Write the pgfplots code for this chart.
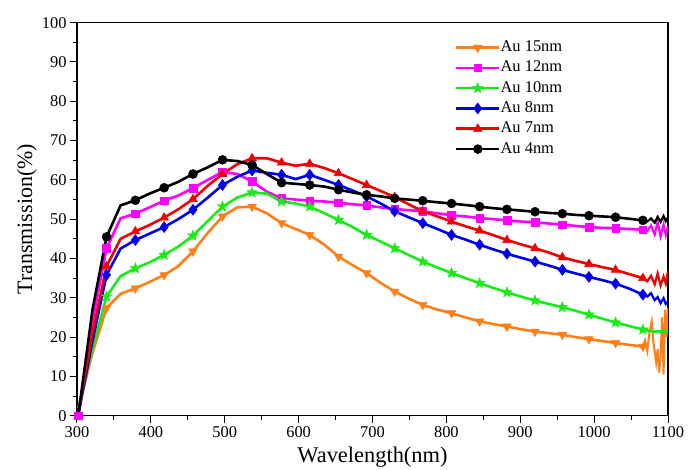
\documentclass[border=0pt]{standalone}
\usepackage{fontspec}
\setmainfont{Liberation Serif}
\usepackage{pgfplots}
\pgfplotsset{compat=1.18}
\usepackage{pgfplotstable}
\usetikzlibrary{plotmarks}

\definecolor{cOrange}{RGB}{255,127,22}
\definecolor{cMag}{RGB}{255,0,255}
\definecolor{cGreen}{RGB}{25,235,25}
\definecolor{cBlue}{RGB}{0,0,240}
\definecolor{cRed}{RGB}{240,0,0}

\pgfdeclareplotmark{fstar}{%
  \pgfpathmoveto{\pgfpointpolar{90}{\pgfplotmarksize}}%
  \pgfpathlineto{\pgfpointpolar{126}{0.42\pgfplotmarksize}}%
  \pgfpathlineto{\pgfpointpolar{162}{\pgfplotmarksize}}%
  \pgfpathlineto{\pgfpointpolar{198}{0.42\pgfplotmarksize}}%
  \pgfpathlineto{\pgfpointpolar{234}{\pgfplotmarksize}}%
  \pgfpathlineto{\pgfpointpolar{270}{0.42\pgfplotmarksize}}%
  \pgfpathlineto{\pgfpointpolar{306}{\pgfplotmarksize}}%
  \pgfpathlineto{\pgfpointpolar{342}{0.42\pgfplotmarksize}}%
  \pgfpathlineto{\pgfpointpolar{18}{\pgfplotmarksize}}%
  \pgfpathlineto{\pgfpointpolar{54}{0.42\pgfplotmarksize}}%
  \pgfpathclose
  \pgfusepathqfillstroke
}

% x  4nm  7nm  8nm  10nm  12nm  15nm
\pgfplotstableread{
x    b     r     bl    g     m     o
302  0.5   1.0   0.5   2.0   0.0   2.0
321  27.0  21.0  19.0  17.0  24.0  16.0
340  45.5  38.0  35.8  30.3  42.6  27.4
359  53.5  45.0  42.5  35.5  50.2  31.0
379  54.8  46.9  44.7  37.5  51.4  32.4
398  56.5  48.5  46.3  39.0  53.0  34.0
418  58.0  50.4  48.0  40.9  54.7  35.8
437  59.5  52.5  50.0  43.0  56.0  38.0
457  61.5  55.1  52.4  45.8  57.9  41.8
477  63.2  58.5  55.5  49.5  60.0  46.5
497  65.1  61.5  58.7  53.2  62.0  50.7
517  64.8  64.0  60.8  55.5  61.5  53.0
537  63.8  65.5  62.4  56.8  59.6  53.2
557  61.5  65.5  61.8  56.5  57.0  51.5
577  59.3  64.4  61.3  54.5  55.3  49.0
596  59.0  63.6  60.2  54.0  55.0  47.5
615  58.7  64.1  61.3  53.2  54.7  46.0
635  58.3  63.0  60.0  51.5  54.5  43.5
654  57.5  61.7  58.7  49.8  54.2  40.5
673  56.8  60.2  57.3  48.0  53.8  38.3
692  56.2  58.7  55.8  46.0  53.5  36.3
711  55.8  57.2  54.0  44.3  53.0  33.8
730  55.3  55.6  52.0  42.6  52.6  31.6
749  55.0  53.8  50.5  40.9  52.3  29.8
768  54.7  52.0  49.0  39.2  52.0  28.2
788  54.3  50.7  47.5  37.7  51.5  27.0
807  54.0  49.4  46.0  36.3  51.0  26.1
826  53.6  48.2  44.8  35.0  50.7  25.0
845  53.2  47.1  43.5  33.7  50.3  24.0
864  52.8  45.9  42.3  32.5  50.0  23.3
882  52.5  44.7  41.2  31.4  49.7  22.7
901  52.2  43.6  40.2  30.3  49.4  22.0
920  51.9  42.6  39.2  29.3  49.2  21.4
939  51.6  41.5  38.2  28.4  48.9  21.0
957  51.4  40.3  37.1  27.6  48.6  20.6
975  51.1  39.4  36.2  26.7  48.3  20.0
993  50.9  38.6  35.3  25.7  48.0  19.5
1011 50.7  37.8  34.5  24.7  47.8  19.0
1029 50.5  37.1  33.6  23.7  47.7  18.5
1048 50.1  36.0  32.3  22.8  47.5  18.0
1066 49.7  35.0  30.8  21.9  47.3  17.6
}\main

\pgfplotstableread{
x    b     r     bl    g     m
1066 49.7  35.0  30.8  21.9  47.3
1072 49.4  34.2  30.3  21.7  47.0
1077 50.2  35.6  31.2  21.5  48.4
1082 49.1  33.4  29.4  21.4  46.1
1086 50.6  36.2  30.2  21.5  49.3
1090 49.3  33.1  28.6  21.4  45.6
1094 50.8  35.4  29.9  21.5  48.6
1097 49.5  33.6  28.4  21.5  46.0
1100 50.4  36.8  29.0  21.5  48.2
}\tail

\pgfplotstableread{
x    o
1066 17.6
1069 19.2
1072 16.5
1075 21.5
1078 24.0
1080 19.0
1082 16.5
1084 13.5
1086 17.0
1088 11.0
1090 15.0
1092 25.0
1094 10.5
1096 27.0
1098 20.0
1100 27.5
}\otail

\begin{document}
\begin{tikzpicture}
\begin{axis}[
  scale only axis,
  width=591bp, height=393bp,
  xmin=300, xmax=1100, ymin=0, ymax=100,
  xtick={300,400,...,1100},
  ytick={0,10,...,100},
  minor x tick num=1, minor y tick num=1,
  tick align=outside,
  xtick pos=lower, ytick pos=left,
  major tick length=7bp, minor tick length=4bp,
  every tick/.style={black, line width=1bp},
  axis line style={black, line width=1.3bp},
  /pgf/number format/assume math mode=true,
  /pgf/number format/set thousands separator={},
  tick label style={font=\fontsize{16.5}{18}\selectfont},
  xlabel={Wavelength(nm)},
  ylabel={Transmission(\%)},
  xlabel style={font=\fontsize{22.5}{24}\selectfont, at={(axis description cs:0.5,-0.1196)}, anchor=base},
  ylabel style={font=\fontsize{22}{24}\selectfont, at={(axis description cs:-0.0761,0.5)}, anchor=base},
  legend style={draw=none, fill=none, at={(axis description cs:0.6396,0.957)}, anchor=north west,
    inner sep=0pt, outer sep=0pt, row sep=4.3bp,
    font=\fontsize{16.5}{18}\selectfont,
    nodes={inner sep=0pt, text height=12bp, text depth=4bp},
    /tikz/every even column/.append style={column sep=4bp}},
  legend cell align=left,
  legend image code/.code={\draw[#1,mark repeat=2,mark phase=2] plot coordinates {(0bp,0bp) (21.5bp,0bp) (43bp,0bp)};},
  every axis plot/.append style={line width=2.6bp, mark repeat=2, mark phase=3},
]
\addplot[cOrange, mark=triangle*, mark size=5bp, mark options={rotate=180, line width=0.5bp}] table[x=x,y=o] {\main};
\addlegendentry{Au 15nm}
\addplot[cMag, mark=square*, mark size=3.8bp, mark phase=1, mark options={line width=0.5bp}] table[x=x,y=m] {\main};
\addlegendentry{Au 12nm}
\addplot[cGreen, mark=fstar, mark size=5.5bp, mark options={line width=0.5bp}] table[x=x,y=g] {\main};
\addlegendentry{Au 10nm}
\addplot[cBlue, mark=diamond*, mark size=5.5bp, mark options={line width=0.5bp}] table[x=x,y=bl] {\main};
\addlegendentry{Au 8nm}
\addplot[cRed, mark=triangle*, mark size=5bp, mark options={line width=0.5bp}] table[x=x,y=r] {\main};
\addlegendentry{Au 7nm}
\addplot[black, mark=*, mark size=4.5bp, mark options={line width=0.5bp}] table[x=x,y=b] {\main};
\addlegendentry{Au 4nm}

\addplot[cOrange, no marks, forget plot, line width=2bp] table[x=x,y=o] {\otail};
\addplot[cMag, no marks, forget plot, line width=2.2bp] table[x=x,y=m] {\tail};
\addplot[cGreen, no marks, forget plot] table[x=x,y=g] {\tail};
\addplot[cBlue, no marks, forget plot, line width=2.2bp] table[x=x,y=bl] {\tail};
\addplot[cRed, no marks, forget plot, line width=2.2bp] table[x=x,y=r] {\tail};
\addplot[black, no marks, forget plot, line width=2.2bp] table[x=x,y=b] {\tail};
\end{axis}
\pgfresetboundingbox
\path[use as bounding box] (-77bp,-54bp) rectangle (611bp,415.7bp);
\end{tikzpicture}
\end{document}
